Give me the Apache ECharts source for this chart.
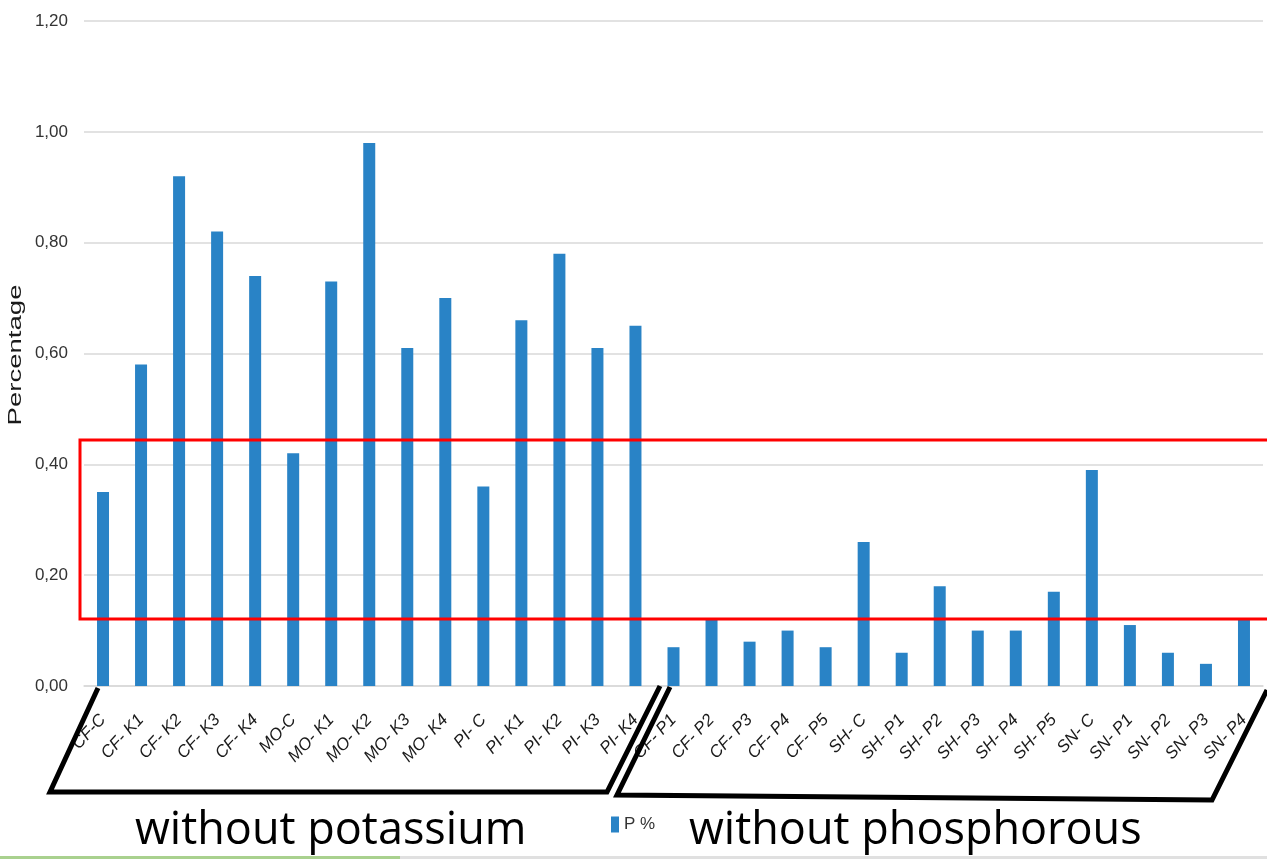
<!DOCTYPE html>
<html>
<head>
<meta charset="utf-8">
<script src="https://cdn.jsdelivr.net/npm/echarts@6/dist/echarts.min.js"></script>
<style>html,body{margin:0;padding:0;background:#fff;}#c{width:1267px;height:859px;}</style>
</head>
<body>
<div id="c"></div>
<script>
var categories = ['CF-C','CF- K1','CF- K2','CF- K3','CF- K4','MO-C','MO- K1','MO- K2','MO- K3','MO- K4','PI- C','PI- K1','PI- K2','PI- K3','PI- K4',
  'CF- P1','CF- P2','CF- P3','CF- P4','CF- P5','SH- C','SH- P1','SH- P2','SH- P3','SH- P4','SH- P5','SN- C','SN- P1','SN- P2','SN- P3','SN- P4'];
var pValues = [0.35,0.58,0.92,0.82,0.74,0.42,0.73,0.98,0.61,0.70,0.36,0.66,0.78,0.61,0.65,
  0.07,0.12,0.08,0.10,0.07,0.26,0.06,0.18,0.10,0.10,0.17,0.39,0.11,0.06,0.04,0.12];
var yTicks = [0,0.2,0.4,0.6,0.8,1.0,1.2];
var seriesName = 'P %';
var yTitle = 'Percentage';
var groupLabels = ['without potassium','without phosphorous'];

var chart = echarts.init(document.getElementById('c'));
chart.setOption({
  animation: false,
  backgroundColor: '#fff',
  grid: {left: 84, right: 4, top: 21, bottom: 173, containLabel: false},
  legend: {
    data: [seriesName], left: 606, top: 811, itemWidth: 8, itemHeight: 16, itemGap: 5,
    icon: 'rect',
    textStyle: {fontSize: 17, color: '#333', fontFamily: 'Liberation Sans Narrow, Liberation Sans, sans-serif'}
  },
  xAxis: {
    type: 'category', data: categories,
    axisLine: {show: true, lineStyle: {color: '#d9d9d9', width: 1.5}},
    axisTick: {show: false},
    axisLabel: {rotate: 47, interval: 0, margin: 31, fontSize: 17, fontStyle: 'italic', color: '#1a1a1a',
      fontFamily: 'Liberation Sans, Arial, sans-serif'}
  },
  yAxis: {
    type: 'value', min: yTicks[0], max: yTicks[yTicks.length-1], interval: 0.2,
    axisLine: {show: false}, axisTick: {show: false},
    axisLabel: {margin: 16, fontSize: 17, color: '#333', fontFamily: 'Liberation Sans, Arial, sans-serif',
      formatter: function(v){ return v.toFixed(2).replace('.', ','); }},
    splitLine: {lineStyle: {color: '#d9d9d9', width: 1.5}}
  },
  series: [{
    name: seriesName, type: 'bar', data: pValues, barWidth: 12,
    itemStyle: {color: '#2983c6'}
  }],
  graphic: [
    {type: 'text', x: 16, y: 355, rotation: Math.PI/2, scaleX: 1.45, scaleY: 1,
      style: {text: yTitle, fontSize: 19, fill: '#1a1a1a', align: 'center', verticalAlign: 'middle',
        fontFamily: 'Liberation Sans, Arial, sans-serif'}, z: 100},
    {type: 'rect', shape: {x: 80, y: 440, width: 1200, height: 179}, style: {fill: 'none', stroke: '#ff0000', lineWidth: 3}, z: 100},
    {type: 'polyline', shape: {points: [[98,688],[50,792],[607,792],[660,686]]}, style: {fill: 'none', stroke: '#000', lineWidth: 5, lineJoin: 'miter'}, z: 100},
    {type: 'polyline', shape: {points: [[670,687],[617,795],[1212,800],[1267,690]]}, style: {fill: 'none', stroke: '#000', lineWidth: 5, lineJoin: 'miter'}, z: 100},
    {type: 'text', left: 135, top: 809, style: {text: groupLabels[0], fontSize: 45, fill: '#000', fontFamily: 'Open Sans, Lato, sans-serif'}, z: 100},
    {type: 'text', left: 689, top: 809, style: {text: groupLabels[1], fontSize: 45, fill: '#000', fontFamily: 'Open Sans, Lato, sans-serif'}, z: 100},
    {type: 'line', shape: {x1: 0, y1: 857.5, x2: 400, y2: 857.5}, style: {stroke: '#a9d18e', lineWidth: 3}, z: 100},
    {type: 'line', shape: {x1: 400, y1: 857.5, x2: 1267, y2: 857.5}, style: {stroke: '#e0e0e0', lineWidth: 3}, z: 100}
  ]
});
</script>
</body>
</html>
